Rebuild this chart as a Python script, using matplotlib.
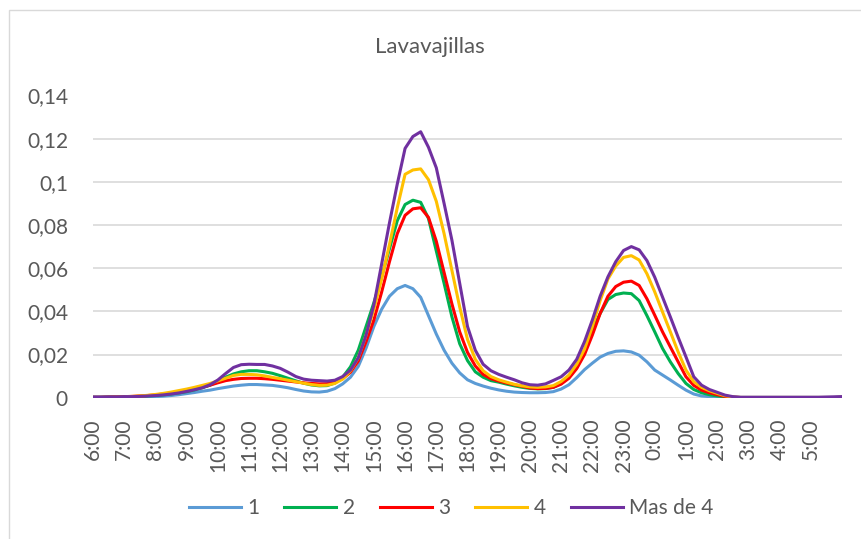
import matplotlib.pyplot as plt
from matplotlib.patches import Rectangle

# Horas (cada 15 minutos, de 6:00 a 6:00 del día siguiente)
horas = [f"{(6 + i // 4) % 24}:{(i % 4) * 15:02d}" for i in range(97)]

# Consumo del lavavajillas según número de personas en el hogar
uno = [
    0.0002, 0.0002, 0.0002, 0.0003,
    0.0003, 0.0003, 0.0004, 0.0004,
    0.0005, 0.0007, 0.0010, 0.0014,
    0.0019, 0.0024, 0.0030, 0.0035,
    0.0042, 0.0048, 0.0054, 0.0058,
    0.0061, 0.0061, 0.0059, 0.0057,
    0.0052, 0.0046, 0.0038, 0.0031,
    0.0027, 0.0026, 0.0030, 0.0042,
    0.0064, 0.0095, 0.0145, 0.0230,
    0.0330, 0.0410, 0.0470, 0.0505,
    0.0520, 0.0505, 0.0465, 0.0380,
    0.0295, 0.0220, 0.0160, 0.0115,
    0.0083, 0.0066, 0.0054, 0.0044,
    0.0036, 0.0030, 0.0026, 0.0024,
    0.0023, 0.0023, 0.0024, 0.0028,
    0.0040, 0.0060, 0.0093, 0.0130,
    0.0160, 0.0188, 0.0205, 0.0215,
    0.0217, 0.0212, 0.0197, 0.0166,
    0.0128, 0.0105, 0.0082, 0.0058,
    0.0035, 0.0017, 0.0008, 0.0005,
    0.0003, 0.0002, 0.0001, 0.0001,
    0.0001, 0.0001, 0.0001, 0.0001,
    0.0001, 0.0001, 0.0001, 0.0001,
    0.0001, 0.0001, 0.0001, 0.0001,
    0.0002,
]
dos = [
    0.0002, 0.0002, 0.0003, 0.0003,
    0.0004, 0.0005, 0.0006, 0.0008,
    0.0010, 0.0013, 0.0017, 0.0022,
    0.0028, 0.0036, 0.0046, 0.0058,
    0.0075, 0.0095, 0.0110, 0.0120,
    0.0125, 0.0125, 0.0120, 0.0113,
    0.0102, 0.0090, 0.0078, 0.0067,
    0.0059, 0.0055, 0.0056, 0.0068,
    0.0095, 0.0143, 0.0220, 0.0330,
    0.0440, 0.0560, 0.0690, 0.0820,
    0.0895, 0.0915, 0.0905, 0.0830,
    0.0680, 0.0530, 0.0375, 0.0250,
    0.0172, 0.0120, 0.0095, 0.0079,
    0.0072, 0.0063, 0.0055, 0.0048,
    0.0043, 0.0041, 0.0042, 0.0048,
    0.0065, 0.0095, 0.0140, 0.0210,
    0.0310, 0.0390, 0.0455, 0.0478,
    0.0485, 0.0482, 0.0450, 0.0380,
    0.0305, 0.0228, 0.0166, 0.0112,
    0.0066, 0.0038, 0.0023, 0.0014,
    0.0008, 0.0004, 0.0002, 0.0001,
    0.0001, 0.0001, 0.0001, 0.0001,
    0.0001, 0.0001, 0.0001, 0.0001,
    0.0001, 0.0001, 0.0001, 0.0001,
    0.0002,
]
tres = [
    0.0002, 0.0002, 0.0003, 0.0004,
    0.0005, 0.0006, 0.0008, 0.0010,
    0.0013, 0.0017, 0.0021, 0.0026,
    0.0032, 0.0039, 0.0048, 0.0058,
    0.0069, 0.0079, 0.0085, 0.0089,
    0.0090, 0.0090, 0.0088, 0.0085,
    0.0081, 0.0077, 0.0073, 0.0069,
    0.0066, 0.0064, 0.0065, 0.0072,
    0.0088, 0.0118, 0.0170, 0.0260,
    0.0360, 0.0490, 0.0630, 0.0760,
    0.0845, 0.0875, 0.0880, 0.0835,
    0.0725, 0.0580, 0.0435, 0.0305,
    0.0210, 0.0147, 0.0108, 0.0088,
    0.0077, 0.0068, 0.0060, 0.0053,
    0.0045, 0.0042, 0.0043, 0.0048,
    0.0063, 0.0090, 0.0135, 0.0200,
    0.0290, 0.0390, 0.0470, 0.0515,
    0.0535, 0.0540, 0.0520, 0.0458,
    0.0382, 0.0305, 0.0235, 0.0166,
    0.0097, 0.0057, 0.0035, 0.0023,
    0.0014, 0.0006, 0.0002, 0.0001,
    0.0001, 0.0001, 0.0001, 0.0001,
    0.0001, 0.0001, 0.0001, 0.0001,
    0.0001, 0.0001, 0.0001, 0.0001,
    0.0002,
]
cuatro = [
    0.0001, 0.0001, 0.0002, 0.0003,
    0.0004, 0.0006, 0.0008, 0.0011,
    0.0015, 0.0020, 0.0026, 0.0033,
    0.0040, 0.0048, 0.0057, 0.0066,
    0.0078, 0.0090, 0.0103, 0.0108,
    0.0108, 0.0106, 0.0101, 0.0094,
    0.0088, 0.0081, 0.0074, 0.0067,
    0.0061, 0.0057, 0.0058, 0.0066,
    0.0086, 0.0125, 0.0185, 0.0290,
    0.0410, 0.0550, 0.0710, 0.0880,
    0.1035, 0.1055, 0.1060, 0.1010,
    0.0910, 0.0760, 0.0590, 0.0420,
    0.0270, 0.0178, 0.0125, 0.0098,
    0.0083, 0.0072, 0.0062, 0.0055,
    0.0050, 0.0048, 0.0050, 0.0056,
    0.0075, 0.0105, 0.0155, 0.0225,
    0.0330, 0.0450, 0.0550, 0.0610,
    0.0650, 0.0658, 0.0638, 0.0574,
    0.0490, 0.0397, 0.0305, 0.0212,
    0.0128, 0.0074, 0.0048, 0.0032,
    0.0020, 0.0009, 0.0003, 0.0001,
    0.0001, 0.0001, 0.0001, 0.0001,
    0.0001, 0.0001, 0.0001, 0.0001,
    0.0001, 0.0001, 0.0001, 0.0001,
    0.0002,
]
mas_de_4 = [
    0.0003, 0.0003, 0.0004, 0.0004,
    0.0005, 0.0005, 0.0006, 0.0008,
    0.0010, 0.0013, 0.0017, 0.0022,
    0.0029, 0.0037, 0.0046, 0.0060,
    0.0082, 0.0112, 0.0140, 0.0153,
    0.0155, 0.0154, 0.0154, 0.0147,
    0.0136, 0.0118, 0.0098, 0.0086,
    0.0081, 0.0079, 0.0077, 0.0081,
    0.0098, 0.0128, 0.0185, 0.0290,
    0.0430, 0.0620, 0.0810, 0.0990,
    0.1155, 0.1210, 0.1232, 0.1160,
    0.1065, 0.0900, 0.0730, 0.0530,
    0.0330, 0.0220, 0.0155, 0.0125,
    0.0108, 0.0095, 0.0083, 0.0069,
    0.0060, 0.0058, 0.0064, 0.0080,
    0.0097, 0.0128, 0.0178, 0.0260,
    0.0360, 0.0470, 0.0560, 0.0630,
    0.0682, 0.0700, 0.0685, 0.0635,
    0.0558, 0.0466, 0.0374, 0.0280,
    0.0189, 0.0097, 0.0058, 0.0038,
    0.0025, 0.0012, 0.0005, 0.0002,
    0.0002, 0.0002, 0.0002, 0.0002,
    0.0002, 0.0002, 0.0002, 0.0002,
    0.0002, 0.0002, 0.0003, 0.0004,
    0.0005,
]

series = [uno, dos, tres, cuatro, mas_de_4]
nombres = ['1', '2', '3', '4', 'Mas de 4']
colores = ['#5B9BD5', '#00B050', '#FF0000', '#FFC000', '#7030A0']

gris = '#595959'
plt.rcParams['font.family'] = ['Lato', 'DejaVu Sans']

fig = plt.figure(figsize=(8.61, 5.39), dpi=100)
ax = fig.add_axes([93 / 861, 1 - 397.7 / 539, 749 / 861, 302.2 / 539])

# borde del gráfico (solo se ven izquierda y arriba)
fig.patches.append(Rectangle((9 / 861, -0.1), 2, 1.1 - 10 / 539, transform=fig.transFigure,
                             fill=False, edgecolor='#D9D9D9', linewidth=1))

x = list(range(len(horas)))
for datos, nombre, color in zip(series, nombres, colores):
    ax.plot(x, datos, color=color, linewidth=2.2, label=nombre, solid_joinstyle='round')

ax.set_xlim(0, len(horas) - 1)
ax.set_ylim(0, 0.14)
ax.set_yticks([0, 0.02, 0.04, 0.06, 0.08, 0.1, 0.12, 0.14])
ax.set_yticklabels(['0', '0,02', '0,04', '0,06', '0,08', '0,1', '0,12', '0,14'])
ax.set_xticks(x[0:96:4])
ax.set_xticklabels(horas[0:96:4], rotation=90)
ax.tick_params(axis='y', length=0, pad=18, labelsize=15, labelcolor=gris)
ax.tick_params(axis='x', length=0, pad=15, labelsize=15, labelcolor=gris)

ax.grid(axis='y', color='#D9D9D9', linewidth=1.2)
ax.set_axisbelow(True)
for lado in ['top', 'right', 'left', 'bottom']:
    ax.spines[lado].set_visible(False)

fig.text(430 / 861, 1 - 47 / 539, 'Lavavajillas', ha='center', va='center', fontsize=16, color=gris)

fig.legend(loc='center', bbox_to_anchor=(451 / 861, 1 - 508 / 539), ncol=5, frameon=False,
           fontsize=15, labelcolor=gris, handlelength=2.5, handletextpad=0.3, columnspacing=1.2)

plt.savefig('out.png', dpi=100)
